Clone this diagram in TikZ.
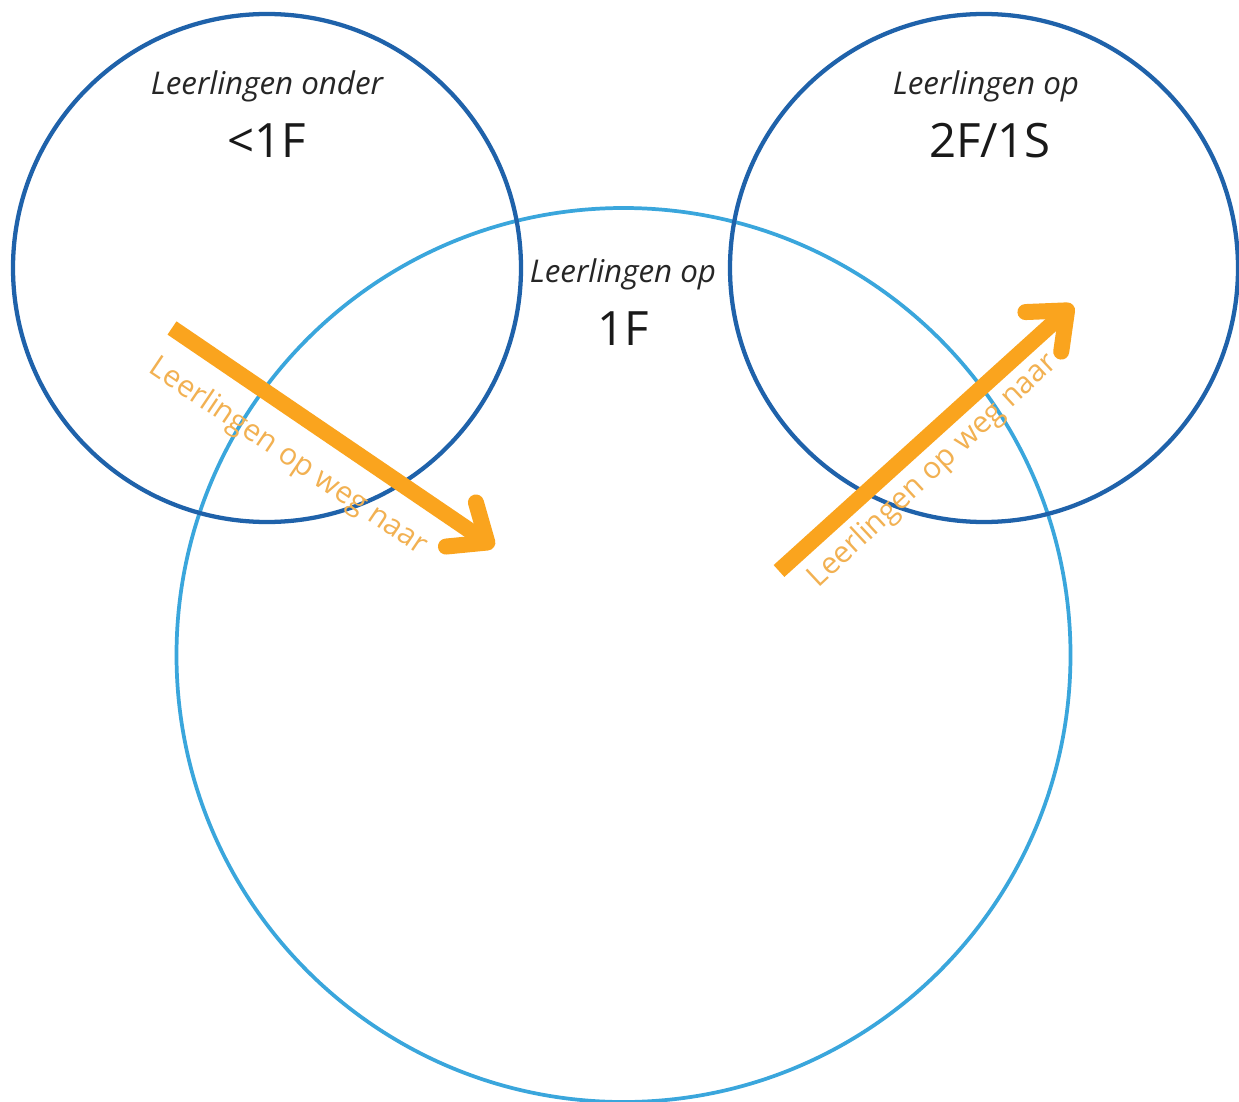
\documentclass[tikz,border=0pt]{standalone}
\usepackage{fontspec}
\setmainfont{Open Sans}
\usetikzlibrary{arrows.meta}
\definecolor{darkblue}{HTML}{1F62AA}
\definecolor{lightblue}{HTML}{3AA6DC}
\definecolor{arroworange}{HTML}{FAA41E}
\definecolor{textorange}{HTML}{F2B152}
\begin{document}
\begin{tikzpicture}[x=0.75pt,y=-0.75pt,
  ring/.style={draw,circle,inner sep=0pt},
  smalllabel/.style={font=\itshape\fontsize{23.5}{28}\selectfont,text=black!85},
  biglabel/.style={font=\fontsize{35.5}{40}\selectfont,text=black!90},
  waytext/.style={font=\fontsize{22.5}{27}\selectfont,text=textorange},
  wayarrow/.style={draw=arroworange,line width=12pt,
    -{Straight Barb[round,length=24pt,width=40pt]}}]
\useasboundingbox (0,0) rectangle (1239,1102);
\fill[white] (0,0) rectangle (1239,1102);
% circles
\node[ring,draw=lightblue,line width=2.8pt,minimum size=670.5pt] (mid) at (623.5,655) {};
\node[ring,draw=darkblue,line width=3.2pt,minimum size=381pt] (left) at (267,268) {};
\node[ring,draw=darkblue,line width=3.2pt,minimum size=381pt] (right) at (984,268) {};
% labels
\node[smalllabel] (l1) at (267,86) {Leerlingen onder};
\node[biglabel] (l2) at (267,141) {<1F};
\node[smalllabel] (m1) at (623,274) {Leerlingen op};
\node[biglabel] (m2) at (623,329) {1F};
\node[smalllabel] (r1) at (986,86) {Leerlingen op};
\node[biglabel] (r2) at (990,141) {2F/1S};
% arrows
\coordinate (a1s) at (172,328);
\coordinate (a1e) at (494,547);
\coordinate (a2s) at (779,571);
\coordinate (a2e) at (1073,305);
\draw[wayarrow] (a1s) -- (a1e);
\draw[wayarrow] (a2s) -- (a2e);
\node[waytext,rotate=-34] (t1) at (288,457) {Leerlingen op weg naar};
\node[waytext,rotate=43] (t2) at (933,471) {Leerlingen op weg naar};
\end{tikzpicture}
\end{document}
